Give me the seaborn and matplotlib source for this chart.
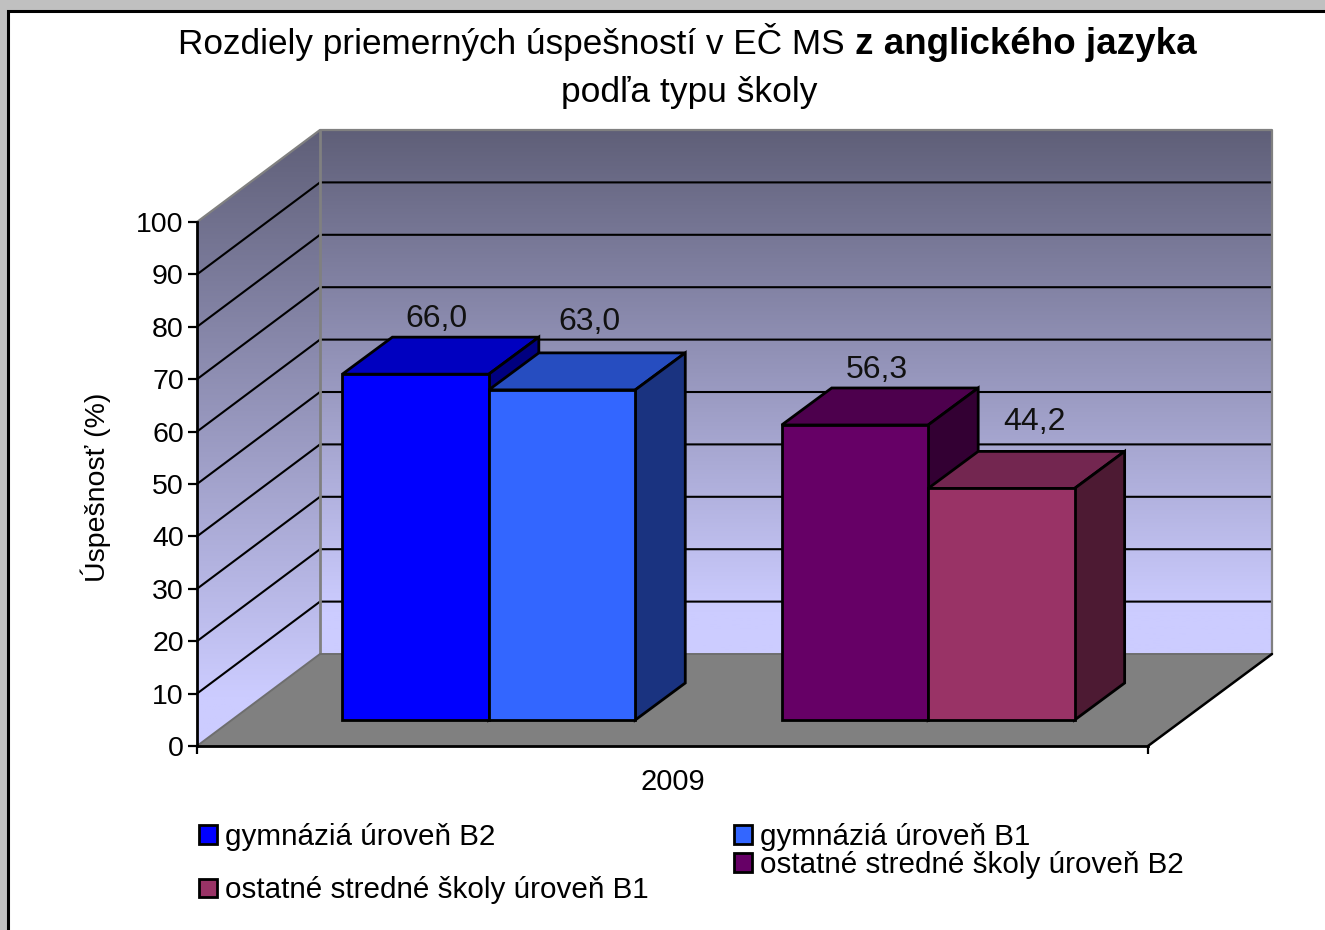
import numpy as np
import pandas as pd
import seaborn as sns
import matplotlib.pyplot as plt
from matplotlib.colors import LinearSegmentedColormap
from matplotlib.patches import Patch, Polygon, Rectangle
from matplotlib.transforms import Affine2D, IdentityTransform

# values
year = ['2009']
school_types = ['gymnáziá úroveň B2', 'gymnáziá úroveň B1',
                'ostatné stredné školy úroveň B2', 'ostatné stredné školy úroveň B1']
success = [66.0, 63.0, 56.3, 44.2]
y_ticks = [0, 10, 20, 30, 40, 50, 60, 70, 80, 90, 100]

front_colors = ['#0000FF', '#3366FF', '#660066', '#993366']
top_colors = ['#0000C0', '#264DC0', '#4D004D', '#732650']
side_colors = ['#000080', '#1A3380', '#330033', '#4D1A33']

df = pd.DataFrame({'rok': year * 4, 'typ': school_types, 'uspesnost': success})
# blank level keeps the gap between the two pairs of bars
hue_levels = school_types[:2] + [' '] + school_types[2:]
palette = dict(zip(school_types, front_colors))
palette[' '] = '#FFFFFF'

sns.set_style('white')
plt.rcParams['font.family'] = ['Liberation Sans', 'DejaVu Sans']

fig = plt.figure(figsize=(13.25, 9.3), dpi=100, facecolor='#C0C0C0')

# background layer in picture pixels: frame, walls, floor
bg = fig.add_axes([0, 0, 1, 1], zorder=0)
bg.add_patch(Rectangle((8, 11), 1330, 930, facecolor='white', edgecolor='black', lw=2.2, zorder=0.5))

wall_cmap = LinearSegmentedColormap.from_list('wall', [(0, '#5F5F78'), (0.92, '#CCCCFF'), (1, '#CCCCFF')])
grad = np.linspace(0, 1, 256).reshape(-1, 1)
back = bg.imshow(grad, cmap=wall_cmap, aspect='auto', extent=(320, 1272, 654, 130), zorder=1)
side = bg.imshow(grad, cmap=wall_cmap, aspect='auto', extent=(197, 320, 746, 130), zorder=1)
side_shape = Polygon([(197, 222), (320, 130), (320, 654), (197, 746)], transform=bg.transData)
side.set_clip_path(side_shape)
bg.add_patch(Polygon([(197, 746), (320, 654), (1272, 654), (1148, 746)],
                     facecolor='#808080', edgecolor='none', zorder=1.2))
for k in range(1, 10):
    bg.plot([197, 320, 1272], [746 - 52.4 * k, 654 - 52.4 * k, 654 - 52.4 * k],
            color='black', lw=1.5, zorder=1.5)
bg.plot([197, 320, 320, 1272, 1272], [222, 130, 130, 130, 654], color='#808080', lw=1.6, zorder=1.6)
bg.plot([320, 320], [130, 654], color='#808080', lw=2, zorder=1.6)
bg.plot([197, 320, 1272], [746, 654, 654], color='#6E6E6E', lw=1.4, zorder=1.6)
bg.plot([1148, 1272], [746, 654], color='black', lw=1.8, zorder=1.6)
bg.set_xlim(0, 1325)
bg.set_ylim(930, 0)
bg.axis('off')

# main axes: front plane of the chart box
ax = fig.add_axes([197 / 1325, 184 / 930, 951 / 1325, 524 / 930], zorder=1)
ax.patch.set_alpha(0)
sns.barplot(data=df, x='rok', y='uspesnost', hue='typ', hue_order=hue_levels,
            palette=palette, width=0.77, gap=0, saturation=1, legend=False,
            edgecolor='black', linewidth=2, ax=ax)
ax.set_xlim(-0.5, 0.5)
ax.set_ylim(0, 100)
ax.set_yticks(y_ticks)
ax.set_xticks([-0.5, 0.5], labels=['', ''])
ax.set_xticks([0], labels=year, minor=True)
ax.tick_params(axis='y', which='major', length=6.5, width=1.6, color='black',
               left=True, labelsize=20.5, pad=3, labelcolor='black')
ax.tick_params(axis='x', which='major', length=6, width=1.6, color='black', bottom=True)
ax.tick_params(axis='x', which='minor', length=0, labelsize=21, pad=16, labelcolor='black')
sns.despine(ax=ax, top=True, right=True)
for s in ['left', 'bottom']:
    ax.spines[s].set_color('black')
    ax.spines[s].set_linewidth(2)
ax.set_xlabel('')
ax.set_ylabel('Úspešnosť (%)', fontsize=20.5, color='black')
ax.yaxis.set_label_coords(-0.09, 0.494)

# give the bars depth: shift them back and add top and side faces
shift = (36, 26)
depth = (50, 37)
bars = sorted([p for p in ax.patches if p.get_height() > 0], key=lambda p: p.get_x())
label_dx = [57, 63, 58, 69]
label_dy = [81, 94, 81, 92]
for i, bar in enumerate(bars):
    x0, x1 = bar.get_x(), bar.get_x() + bar.get_width()
    h = bar.get_height()
    bar.set_transform(ax.transData + Affine2D().translate(*shift))
    bar.set_zorder(5 + i * 2)
    bar.set_clip_on(False)
    (px0, py0), (px1, py1) = ax.transData.transform([(x0, 0), (x1, h)]) + shift
    dx, dy = depth
    top = [(px0, py1), (px1, py1), (px1 + dx, py1 + dy), (px0 + dx, py1 + dy)]
    right = [(px1, py0), (px1 + dx, py0 + dy), (px1 + dx, py1 + dy), (px1, py1)]
    for pts, col in [(top, top_colors[i]), (right, side_colors[i])]:
        ax.add_patch(Polygon(pts, transform=IdentityTransform(), facecolor=col,
                             edgecolor='black', lw=2, zorder=4 + i * 2, clip_on=False))
    ax.annotate(f'{success[i]:.1f}'.replace('.', ','), xy=((x0 + x1) / 2, h),
                xytext=(label_dx[i], label_dy[i]), textcoords='offset pixels',
                ha='center', va='center', fontsize=23, color='#111111',
                annotation_clip=False, zorder=20)

# title, normal and bold parts
bg.text(178, 54, 'Rozdiely priemerných úspešností v EČ MS ', fontsize=25.3,
        ha='left', va='baseline', color='black')
bg.text(855, 54, 'z anglického jazyka', fontsize=26.5, fontweight='bold',
        ha='left', va='baseline', color='black')
bg.text(689, 102, 'podľa typu školy', fontsize=25.5, ha='center', va='baseline', color='black')

# legend is laid out in two uneven columns
handles = [Patch(facecolor=c, edgecolor='black', lw=2) for c in front_colors]
leg_opts = dict(frameon=False, borderpad=0, borderaxespad=0, loc='upper left',
                handlelength=0.6, handleheight=0.6, handletextpad=0.28,
                fontsize=21.3, labelcolor='black')
fig.legend([handles[0], handles[3]], [school_types[0], school_types[3]],
           bbox_to_anchor=(199 / 1325, 1 - 823 / 930), labelspacing=0.86, **leg_opts)
fig.legend([handles[1], handles[2]], [school_types[1], school_types[2]],
           bbox_to_anchor=(734 / 1325, 1 - 823 / 930), labelspacing=-0.01, **leg_opts)

plt.savefig('out.png', dpi=100, facecolor=fig.get_facecolor())
